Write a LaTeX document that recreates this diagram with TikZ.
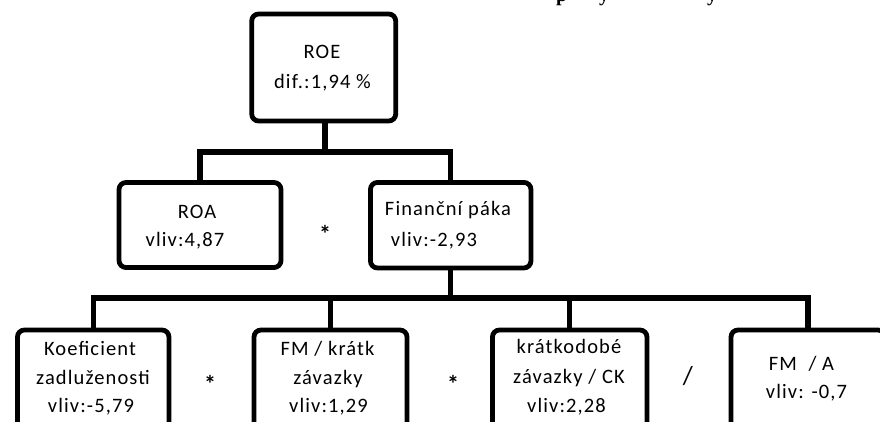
\documentclass[tikz,border=0pt]{standalone}
\usepackage{fontspec}
\setmainfont{Carlito}[LetterSpace=5.5]
\newfontfamily\headfont{Liberation Serif}
\begin{document}
\begin{tikzpicture}[x=1pt,y=-1pt,
  blk/.style={draw, line width=4.8pt, rounded corners=7pt, inner sep=0pt},
  wire/.style={line width=5.2pt},
  lbl/.style={anchor=base, inner sep=0pt, font=\fontsize{20.5}{29}\selectfont},
  opsym/.style={inner sep=0pt, font=\fontsize{24}{28}\selectfont\bfseries},
  headchar/.style={anchor=base west, inner sep=0pt, font=\headfont\fontsize{20}{24}\selectfont\bfseries}]
\useasboundingbox (0,0) rectangle (880,421);
\clip (0,0) rectangle (880,421);

% bottom of a heading that lies above the drawing
\node[headchar] (hp) at (556,1) {p};
\node[headchar] (hy1) at (599,1) {y};
\node[headchar] (hy2) at (707,1) {y};

% boxes
\node[blk, minimum width=144pt, minimum height=107pt] (roe) at (323.7,67.5) {};
\node[blk, minimum width=162pt, minimum height=85pt] (roa) at (200,225) {};
\node[blk, minimum width=160.5pt, minimum height=85.5pt] (fin) at (450.7,225.2) {};
\node[blk, minimum width=151.5pt, minimum height=102pt] (koef) at (93.2,381) {};
\node[blk, minimum width=153pt, minimum height=102pt] (fmk) at (330.5,381) {};
\node[blk, minimum width=154.5pt, minimum height=102pt] (kz) at (569.7,381) {};
\node[blk, minimum width=154pt, minimum height=102pt] (fma) at (808,381) {};

% junctions of the tree
\coordinate (j1) at (325,152);
\coordinate (j2) at (450.5,298);

% connectors
\draw[wire] (roe.south -| j1) -- (j1);
\draw[wire] (roa.north) |- (j1) -| (fin.north);
\draw[wire] (fin.south -| j2) -- (j2);
\draw[wire] (koef.north) |- (j2) -| (fma.north);
\draw[wire] (fmk.north) -- (fmk.north |- j2);
\draw[wire] (kz.north) -- (kz.north |- j2);

% box texts
\node[lbl] (roe1) at (322,58.3) {ROE};
\node[lbl] (roe2) at (322.5,88) {dif.:1,94 \%};
\node[lbl] (roa1) at (197,218) {ROA};
\node[lbl] (roa2) at (185,246.7) {vliv:4,87};
\node[lbl] (fin1) at (448,215) {Finanční páka};
\node[lbl] (fin2) at (434,246.7) {vliv:-2,93};
\node[lbl] (koef1) at (90,355) {Koeficient};
\node[lbl] (koef2) at (93,384) {zadluženosti};
\node[lbl] (koef3) at (91,412.5) {vliv:-5,79};
\node[lbl] (fmk1) at (327.5,355) {FM / krátk};
\node[lbl] (fmk2) at (328,384) {závazky};
\node[lbl] (fmk3) at (328.5,412) {vliv:1,29};
\node[lbl] (kz1) at (569,353) {krátkodobé};
\node[lbl] (kz2) at (569,383) {závazky / CK};
\node[lbl] (kz3) at (566.5,412) {vliv:2,28};
\node[lbl] (fma1) at (801.5,370) {FM~~/ A};
\node[lbl] (fma2) at (806.5,398) {vliv: -0,7};

% operators between the factors
\node[opsym, anchor=base] (op1) at (325,242) {*};
\node[opsym, anchor=base] (op2) at (210,392) {*};
\node[opsym, anchor=base] (op3) at (453,392) {*};
\node[inner sep=0pt, font=\fontsize{26}{30}\selectfont] (op4) at (688,376.5) {/};
\end{tikzpicture}
\end{document}
